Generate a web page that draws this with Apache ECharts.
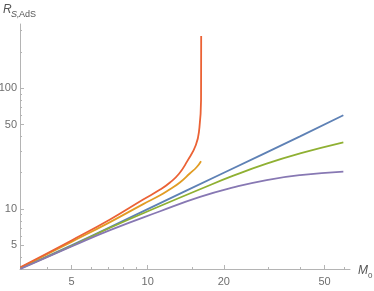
<!DOCTYPE html>
<html><head><meta charset="utf-8">
<script src="https://cdn.jsdelivr.net/npm/echarts@6/dist/echarts.min.js"></script>
<style>html,body{margin:0;padding:0;background:#fff}#c{width:374px;height:291px}</style>
</head><body><div id="c"></div>
<script>
// tick labels and minor ticks
const xTickLabels = [5, 10, 20, 50];
const xMinorTicks = [4, 6, 7, 8, 9, 15, 30, 40, 60];
const yTickLabels = [5, 10, 50, 100];
const yMinorTicks = [4, 6, 7, 8, 9, 20, 30, 40, 60, 70, 80, 90, 200, 300];

// series (M0, R)
const blueM   = [3.14, 5, 10, 20, 40, 59.3];
const blueR   = [3.24, 5, 10, 20, 40, 59.8];
const orangeM = [3.14, 5, 7.1, 9.6, 11.2, 12.25, 13.4, 14.7, 15.6, 16.25];
const orangeR = [3.27, 5.35, 7.8, 11.0, 13.0, 14.6, 16.6, 19.8, 22.2, 24.9];
const greenM  = [3.14, 5, 7.1, 11.2, 16.1, 21.8, 29.5, 40, 59.3];
const greenR  = [3.22, 4.95, 7.0, 10.6, 14.6, 18.9, 23.8, 28.9, 35.7];
const redM    = [3.14, 5, 7.1, 9.6, 11.2, 12.25, 13.3, 14.3, 15.5, 16.0, 16.25, 16.27];
const redR    = [3.30, 5.5, 8.2, 12.0, 14.5, 16.6, 19.6, 24.7, 33.9, 46.7, 80, 271];
const purpleM = [3.14, 5, 7.1, 11.2, 16.1, 21.8, 29.5, 40, 59.3];
const purpleR = [3.20, 4.9, 6.7, 9.6, 12.6, 15.1, 17.4, 19.1, 20.4];

const zip = (a, b) => a.map((v, i) => [v, b[i]]);
const axisGray = '#b4b4b4';
const labelGray = '#6e6e6e';
const font = 'Liberation Sans';

function mkSeries(name, M, R, color) {
  return { name, type: 'line', data: zip(M, R), showSymbol: false, smooth: 0.5,
    lineStyle: { color, width: 1.8 }, xAxisIndex: 0, yAxisIndex: 0, animation: false };
}

const chart = echarts.init(document.getElementById('c'), null, { renderer: 'canvas' });
chart.setOption({
  animation: false,
  grid: { left: 20, right: 24, top: 24, bottom: 22, containLabel: false, outerBoundsMode: 'none' },
  xAxis: [
    { type: 'log', min: 3.13, max: 63, position: 'bottom',
      axisLine: { onZero: false, lineStyle: { color: axisGray, width: 1 } },
      axisTick: { inside: true, length: 4, customValues: xTickLabels, lineStyle: { color: axisGray } },
      axisLabel: { customValues: xTickLabels, margin: 7, color: labelGray, fontSize: 11, fontFamily: font },
      splitLine: { show: false } },
    { type: 'log', min: 3.13, max: 63, position: 'bottom',
      axisLine: { show: false, onZero: false },
      axisTick: { inside: true, length: 2, customValues: xMinorTicks, lineStyle: { color: axisGray } },
      axisLabel: { show: false }, splitLine: { show: false } }
  ],
  yAxis: [
    { type: 'log', min: 3.19, max: 341, position: 'left',
      axisLine: { show: true, onZero: false, lineStyle: { color: axisGray, width: 1 } },
      axisTick: { show: true, inside: true, length: 4, customValues: yTickLabels, lineStyle: { color: axisGray } },
      axisLabel: { customValues: yTickLabels, margin: 3, color: labelGray, fontSize: 11, fontFamily: font },
      splitLine: { show: false } },
    { type: 'log', min: 3.19, max: 341, position: 'left',
      axisLine: { show: false, onZero: false },
      axisTick: { show: true, inside: true, length: 2, customValues: yMinorTicks, lineStyle: { color: axisGray } },
      axisLabel: { show: false }, splitLine: { show: false } }
  ],
  series: [
    mkSeries('blue', blueM, blueR, '#5E81B5'),
    mkSeries('orange', orangeM, orangeR, '#E19C24'),
    mkSeries('green', greenM, greenR, '#8FB032'),
    mkSeries('red', redM, redR, '#EB6235'),
    mkSeries('purple', purpleM, purpleR, '#8778B3')
  ],
  graphic: [
    { type: 'text', x: 3, y: 16, style: { text: 'R', font: 'italic 12px ' + font, fill: '#555', textVerticalAlign: 'bottom' } },
    { type: 'text', x: 11, y: 19, style: { text: 'S,', font: 'italic 9px ' + font, fill: '#555', textVerticalAlign: 'bottom' } },
    { type: 'text', x: 19, y: 19, style: { text: 'AdS', font: '9px ' + font, fill: '#555', textVerticalAlign: 'bottom' } },
    { type: 'text', x: 358, y: 277, style: { text: 'M', font: 'italic 12px ' + font, fill: '#555', textVerticalAlign: 'bottom' } },
    { type: 'text', x: 368, y: 280, style: { text: '0', font: '8px ' + font, fill: '#555', textVerticalAlign: 'bottom' } }
  ]
});
</script></body></html>
